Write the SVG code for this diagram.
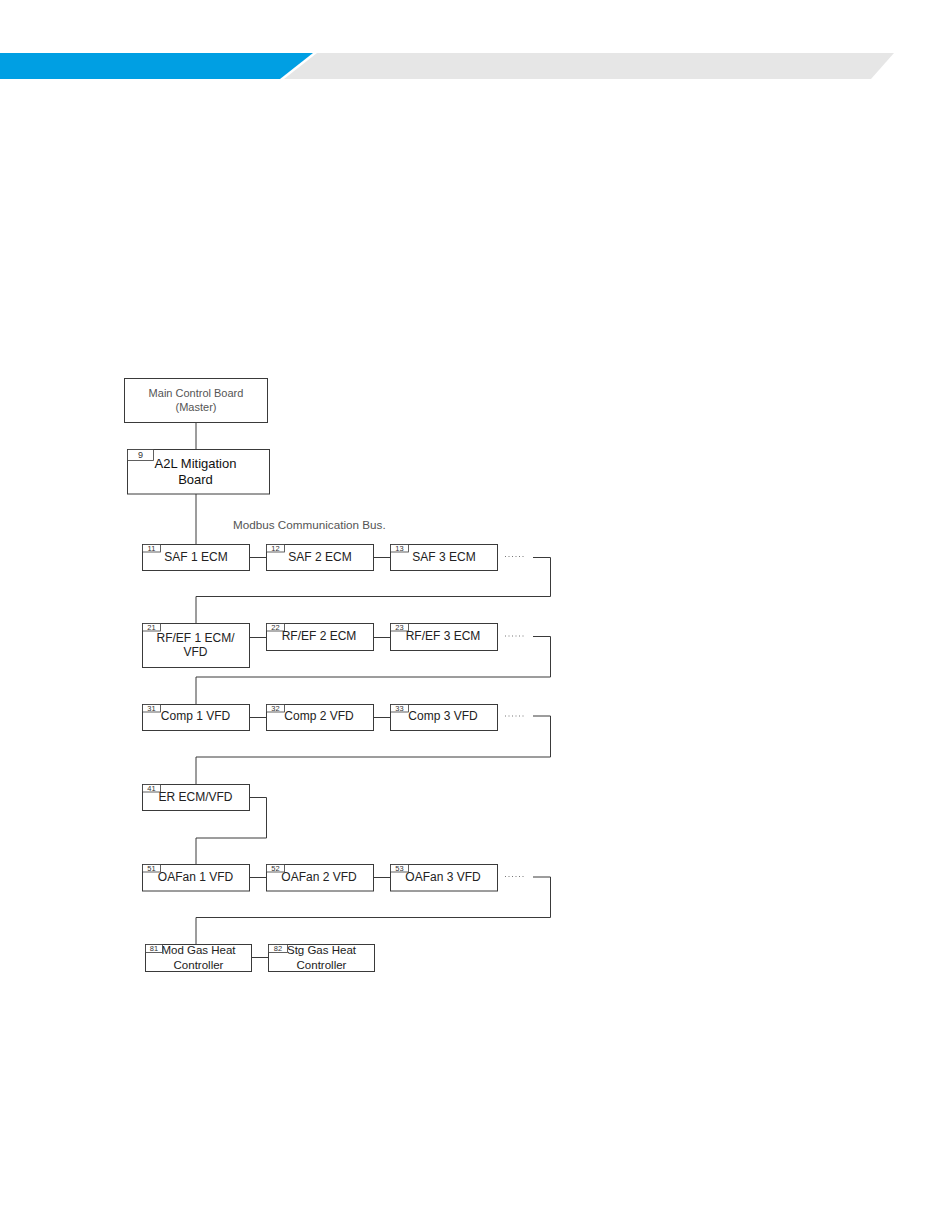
<svg xmlns="http://www.w3.org/2000/svg" width="950" height="1229" viewBox="0 0 950 1229">
<style>
.box{fill:#fff;stroke:#3a3a3a;stroke-width:1}
.tag{fill:#fff;stroke:#3a3a3a;stroke-width:0.8}
.lbl{font-family:"Liberation Sans",Arial,sans-serif;font-size:12px;fill:#222;text-anchor:middle}
.big{font-size:13px;fill:#111}
.grey{fill:#555}
.tt{font-family:"Liberation Sans",Arial,sans-serif;font-size:7.5px;fill:#333;text-anchor:middle}
.con{fill:none;stroke:#3a3a3a;stroke-width:1}
.dot{fill:none;stroke:#777;stroke-width:1;stroke-dasharray:1 2.5}
</style>
<rect x="0" y="0" width="950" height="1229" fill="#fff"/>
<g id="header">
<polygon points="0,53 313,53 280,79 0,79" fill="#009fe3"/>
<polygon points="317,53 894,53 871,79 284,79" fill="#e6e6e6"/>
</g>
<g id="connectors">
<line class="con" x1="196" y1="423" x2="196" y2="449"/>
<line class="con" x1="196" y1="494" x2="196" y2="544"/>
<line class="con" x1="249.5" y1="557.5" x2="266.5" y2="557.5"/>
<line class="con" x1="373.5" y1="557.5" x2="390.5" y2="557.5"/>
<line class="dot" x1="505" y1="556.5" x2="525" y2="556.5"/>
<polyline class="con" points="533,557.5 550.5,557.5 550.5,596.5 196,596.5 196,623.5"/>
<line class="con" x1="249.5" y1="637.5" x2="266.5" y2="637.5"/>
<line class="con" x1="373.5" y1="637.5" x2="390.5" y2="637.5"/>
<line class="dot" x1="505" y1="636" x2="525" y2="636"/>
<polyline class="con" points="533,636.5 550.5,636.5 550.5,677 196,677 196,704.5"/>
<line class="con" x1="249.5" y1="717.5" x2="266.5" y2="717.5"/>
<line class="con" x1="373.5" y1="717.5" x2="390.5" y2="717.5"/>
<line class="dot" x1="505" y1="716" x2="525" y2="716"/>
<polyline class="con" points="533,716 550.5,716 550.5,757 196,757 196,784.5"/>
<polyline class="con" points="249.5,797.5 266.5,797.5 266.5,838 196,838 196,864.5"/>
<line class="con" x1="249.5" y1="877.5" x2="266.5" y2="877.5"/>
<line class="con" x1="373.5" y1="877.5" x2="390.5" y2="877.5"/>
<line class="dot" x1="505" y1="876.5" x2="525" y2="876.5"/>
<polyline class="con" points="533,877 550.5,877 550.5,917.5 196,917.5 196,944.5"/>
<line class="con" x1="251.5" y1="957.5" x2="268.5" y2="957.5"/>
</g>
<g id="main-control-board">
<rect class="box" x="124.5" y="378.5" width="143" height="44"/>
<text class="lbl grey" x="196" y="396.5" style="font-size:11px">Main Control Board</text>
<text class="lbl grey" x="196" y="410.5" style="font-size:11px">(Master)</text>
</g>
<g id="a2l-board">
<rect class="box" x="127.5" y="449.5" width="142" height="44.5"/>
<text class="lbl big" x="195.5" y="467.5">A2L Mitigation</text>
<text class="lbl big" x="195.5" y="483.5">Board</text>
<rect class="tag" x="127.5" y="449.5" width="26" height="11"/>
<text class="tt" x="140.5" y="458" style="font-size:9px">9</text>
</g>
<g id="bus-label">
<text class="lbl grey" x="233" y="528.5" style="text-anchor:start;font-size:11.7px">Modbus Communication Bus.</text>
</g>
<g id="saf1">
<rect class="box" x="142.5" y="544.5" width="107" height="26"/>
<text class="lbl" x="196" y="561">SAF 1 ECM</text>
<rect class="tag" x="142.5" y="544.5" width="18" height="7.5"/>
<text class="tt" x="151.5" y="551">11</text>
</g>
<g id="saf2">
<rect class="box" x="266.5" y="544.5" width="107" height="26"/>
<text class="lbl" x="320" y="561">SAF 2 ECM</text>
<rect class="tag" x="266.5" y="544.5" width="18" height="7.5"/>
<text class="tt" x="275.5" y="551">12</text>
</g>
<g id="saf3">
<rect class="box" x="390.5" y="544.5" width="107" height="26"/>
<text class="lbl" x="444" y="561">SAF 3 ECM</text>
<rect class="tag" x="390.5" y="544.5" width="18" height="7.5"/>
<text class="tt" x="399.5" y="551">13</text>
</g>
<g id="rfef1">
<rect class="box" x="142.5" y="623.5" width="107" height="44"/>
<text class="lbl" x="195.5" y="642">RF/EF 1 ECM/</text>
<text class="lbl" x="195.5" y="655.5">VFD</text>
<rect class="tag" x="142.5" y="623.5" width="18" height="7.5"/>
<text class="tt" x="151.5" y="630">21</text>
</g>
<g id="rfef2">
<rect class="box" x="266.5" y="623.5" width="107" height="27"/>
<text class="lbl" x="319" y="639.5">RF/EF 2 ECM</text>
<rect class="tag" x="266.5" y="623.5" width="18" height="7.5"/>
<text class="tt" x="275.5" y="630">22</text>
</g>
<g id="rfef3">
<rect class="box" x="390.5" y="623.5" width="107" height="27"/>
<text class="lbl" x="443" y="639.5">RF/EF 3 ECM</text>
<rect class="tag" x="390.5" y="623.5" width="18" height="7.5"/>
<text class="tt" x="399.5" y="630">23</text>
</g>
<g id="comp1">
<rect class="box" x="142.5" y="704.5" width="107" height="26"/>
<text class="lbl" x="195.5" y="720">Comp 1 VFD</text>
<rect class="tag" x="142.5" y="704.5" width="18" height="7.5"/>
<text class="tt" x="151.5" y="711">31</text>
</g>
<g id="comp2">
<rect class="box" x="266.5" y="704.5" width="107" height="26"/>
<text class="lbl" x="319" y="720">Comp 2 VFD</text>
<rect class="tag" x="266.5" y="704.5" width="18" height="7.5"/>
<text class="tt" x="275.5" y="711">32</text>
</g>
<g id="comp3">
<rect class="box" x="390.5" y="704.5" width="107" height="26"/>
<text class="lbl" x="443" y="720">Comp 3 VFD</text>
<rect class="tag" x="390.5" y="704.5" width="18" height="7.5"/>
<text class="tt" x="399.5" y="711">33</text>
</g>
<g id="er">
<rect class="box" x="142.5" y="784.5" width="107" height="26"/>
<text class="lbl" x="195.5" y="800.5">ER ECM/VFD</text>
<rect class="tag" x="142.5" y="784.5" width="18" height="7.5"/>
<text class="tt" x="151.5" y="791">41</text>
</g>
<g id="oafan1">
<rect class="box" x="142.5" y="864.5" width="107" height="26.5"/>
<text class="lbl" x="195.5" y="881">OAFan 1 VFD</text>
<rect class="tag" x="142.5" y="864.5" width="18" height="7.5"/>
<text class="tt" x="151.5" y="871">51</text>
</g>
<g id="oafan2">
<rect class="box" x="266.5" y="864.5" width="107" height="26.5"/>
<text class="lbl" x="319" y="881">OAFan 2 VFD</text>
<rect class="tag" x="266.5" y="864.5" width="18" height="7.5"/>
<text class="tt" x="275.5" y="871">52</text>
</g>
<g id="oafan3">
<rect class="box" x="390.5" y="864.5" width="107" height="26.5"/>
<text class="lbl" x="443" y="881">OAFan 3 VFD</text>
<rect class="tag" x="390.5" y="864.5" width="18" height="7.5"/>
<text class="tt" x="399.5" y="871">53</text>
</g>
<g id="mod-gas">
<rect class="box" x="145.5" y="944.5" width="106" height="27"/>
<text class="lbl" x="198.5" y="954" style="font-size:11.5px">Mod Gas Heat</text>
<text class="lbl" x="198.5" y="968.5" style="font-size:11.5px">Controller</text>
<rect class="tag" x="145.5" y="944.5" width="17" height="8"/>
<text class="tt" x="154" y="951">81</text>
</g>
<g id="stg-gas">
<rect class="box" x="268.5" y="944.5" width="106" height="27"/>
<text class="lbl" x="321.5" y="954" style="font-size:11.5px">Stg Gas Heat</text>
<text class="lbl" x="321.5" y="968.5" style="font-size:11.5px">Controller</text>
<rect class="tag" x="268.5" y="944.5" width="19" height="8"/>
<text class="tt" x="278" y="951">82</text>
</g>
</svg>
